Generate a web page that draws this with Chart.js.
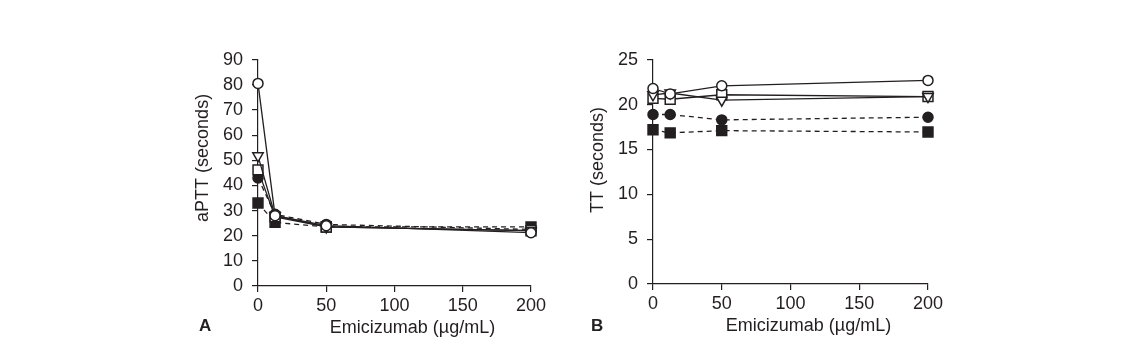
<!DOCTYPE html>
<html>
<head>
<meta charset="utf-8">
<script src="https://cdn.jsdelivr.net/npm/chart.js@4"></script>
<style>
  body { margin: 0; background: #fff; width: 1143px; height: 361px; position: relative; overflow: hidden; }
  .box { position: absolute; top: 40px; width: 380px; height: 305px; }
  .panel { position: absolute; top: 316px; font: bold 17px "Liberation Sans", Arial, sans-serif; color: #231f20; }
</style>
</head>
<body>
<div class="box" style="left:180px"><canvas id="chartA" width="380" height="305"></canvas></div>
<div class="box" style="left:575px"><canvas id="chartB" width="380" height="305"></canvas></div>
<div class="panel" style="left:199px">A</div>
<div class="panel" style="left:591px">B</div>
<script>
// emicizumab concentrations (µg/mL)
const doses = [0, 12.5, 50, 200];

// panel A: aPTT (seconds)
const apttOpenCircle = [80.6, 28, 24, 21.2];
const apttOpenTriangle = [51.8, 28, 23.5, 22];
const apttOpenSquare = [46.2, 27.5, 23.5, 22];
const apttFilledCircle = [43, 28.5, 24.5, 22.5];
const apttFilledSquare = [33, 25.3, 23.5, 23.5];

// panel B: TT (seconds)
const ttOpenCircle = [21.8, 21.2, 22.1, 22.7];
const ttOpenTriangle = [21.1, 21.3, 20.5, 20.9];
const ttOpenSquare = [20.7, 20.6, 21.1, 20.9];
const ttFilledCircle = [18.9, 18.9, 18.3, 18.6];
const ttFilledSquare = [17.2, 16.85, 17.1, 16.95];

const aTicks = [0, 10, 20, 30, 40, 50, 60, 70, 80, 90];
const bTicks = [0, 5, 10, 15, 20, 25];
const xTicks = [0, 50, 100, 150, 200];

const ink = '#231f20';
const fontName = '"Liberation Sans", Arial, sans-serif';

function series(vals, style, filled, dashed, rot) {
  return {
    data: doses.map((d, i) => ({ x: d, y: vals[i] })),
    borderColor: ink,
    borderWidth: 1.3,
    borderDash: dashed ? [5, 4] : [],
    pointStyle: style,
    pointRotation: rot || 0,
    pointRadius: style == 'rect' ? 7 : (style == 'triangle' ? 6 : 5),
    pointBorderWidth: 1.5,
    pointBorderColor: ink,
    pointBackgroundColor: filled ? ink : '#fff',
    tension: 0,
    clip: false
  };
}

// axis titles drawn next to the axes, slightly off-centre as in the figure
const axisTitles = {
  id: 'axisTitles',
  afterDraw(chart, args, opts) {
    const ctx = chart.ctx, a = chart.chartArea;
    ctx.save();
    ctx.fillStyle = ink;
    ctx.font = '18px ' + fontName;
    ctx.textAlign = 'center';
    ctx.textBaseline = 'middle';
    ctx.fillText(opts.x, (a.left + a.right) / 2 + 18, a.bottom + 42);
    ctx.translate(a.left - 55, (a.top + a.bottom) / 2 + opts.dy);
    ctx.rotate(-Math.PI / 2);
    ctx.fillText(opts.y, 0, 0);
    ctx.restore();
  }
};

function makeChart(id, sets, ymax, yTicks, step, xh, padR, ytitle, dy) {
  new Chart(document.getElementById(id), {
    type: 'line',
    data: { datasets: sets },
    options: {
      responsive: false,
      animation: false,
      layout: { padding: { top: 17, right: padR, left: 0, bottom: 0 } },
      plugins: {
        legend: { display: false },
        tooltip: { enabled: false },
        axisTitles: { x: 'Emicizumab (µg/mL)', y: ytitle, dy: dy }
      },
      scales: {
        x: {
          type: 'linear', min: 0, max: 200,
          afterBuildTicks: s => { s.ticks = xTicks.map(v => ({ value: v })); },
          afterFit: s => { s.height = xh; },
          border: { color: ink, width: 1.2 },
          grid: { drawOnChartArea: false, drawTicks: true, tickLength: 6, color: ink, lineWidth: 1.2 },
          ticks: { color: ink, font: { family: fontName, size: 18 }, padding: 3, maxRotation: 0 }
        },
        y: {
          min: 0, max: ymax,
          afterBuildTicks: s => { s.ticks = yTicks.map(v => ({ value: v })); },
          afterFit: s => { s.width = 78; },
          border: { color: ink, width: 1.2 },
          grid: { drawOnChartArea: false, drawTicks: true, tickLength: 6, color: ink, lineWidth: 1.2 },
          ticks: { color: ink, font: { family: fontName, size: 18 }, padding: 9, stepSize: step }
        }
      }
    },
    plugins: [axisTitles]
  });
}

makeChart('chartA', [
  series(apttOpenCircle, 'circle', false, false),
  series(apttOpenTriangle, 'triangle', false, false, 180),
  series(apttOpenSquare, 'rect', false, false),
  series(apttFilledCircle, 'circle', true, true),
  series(apttFilledSquare, 'rect', true, true)
], 90, aTicks, 10, 59, 29, 'aPTT (seconds)', -15);

makeChart('chartB', [
  series(ttOpenCircle, 'circle', false, false),
  series(ttOpenTriangle, 'triangle', false, false, 180),
  series(ttOpenSquare, 'rect', false, false),
  series(ttFilledCircle, 'circle', true, true),
  series(ttFilledSquare, 'rect', true, true)
], 25, bTicks, 5, 61, 27, 'TT (seconds)', -12);
</script>
</body>
</html>
